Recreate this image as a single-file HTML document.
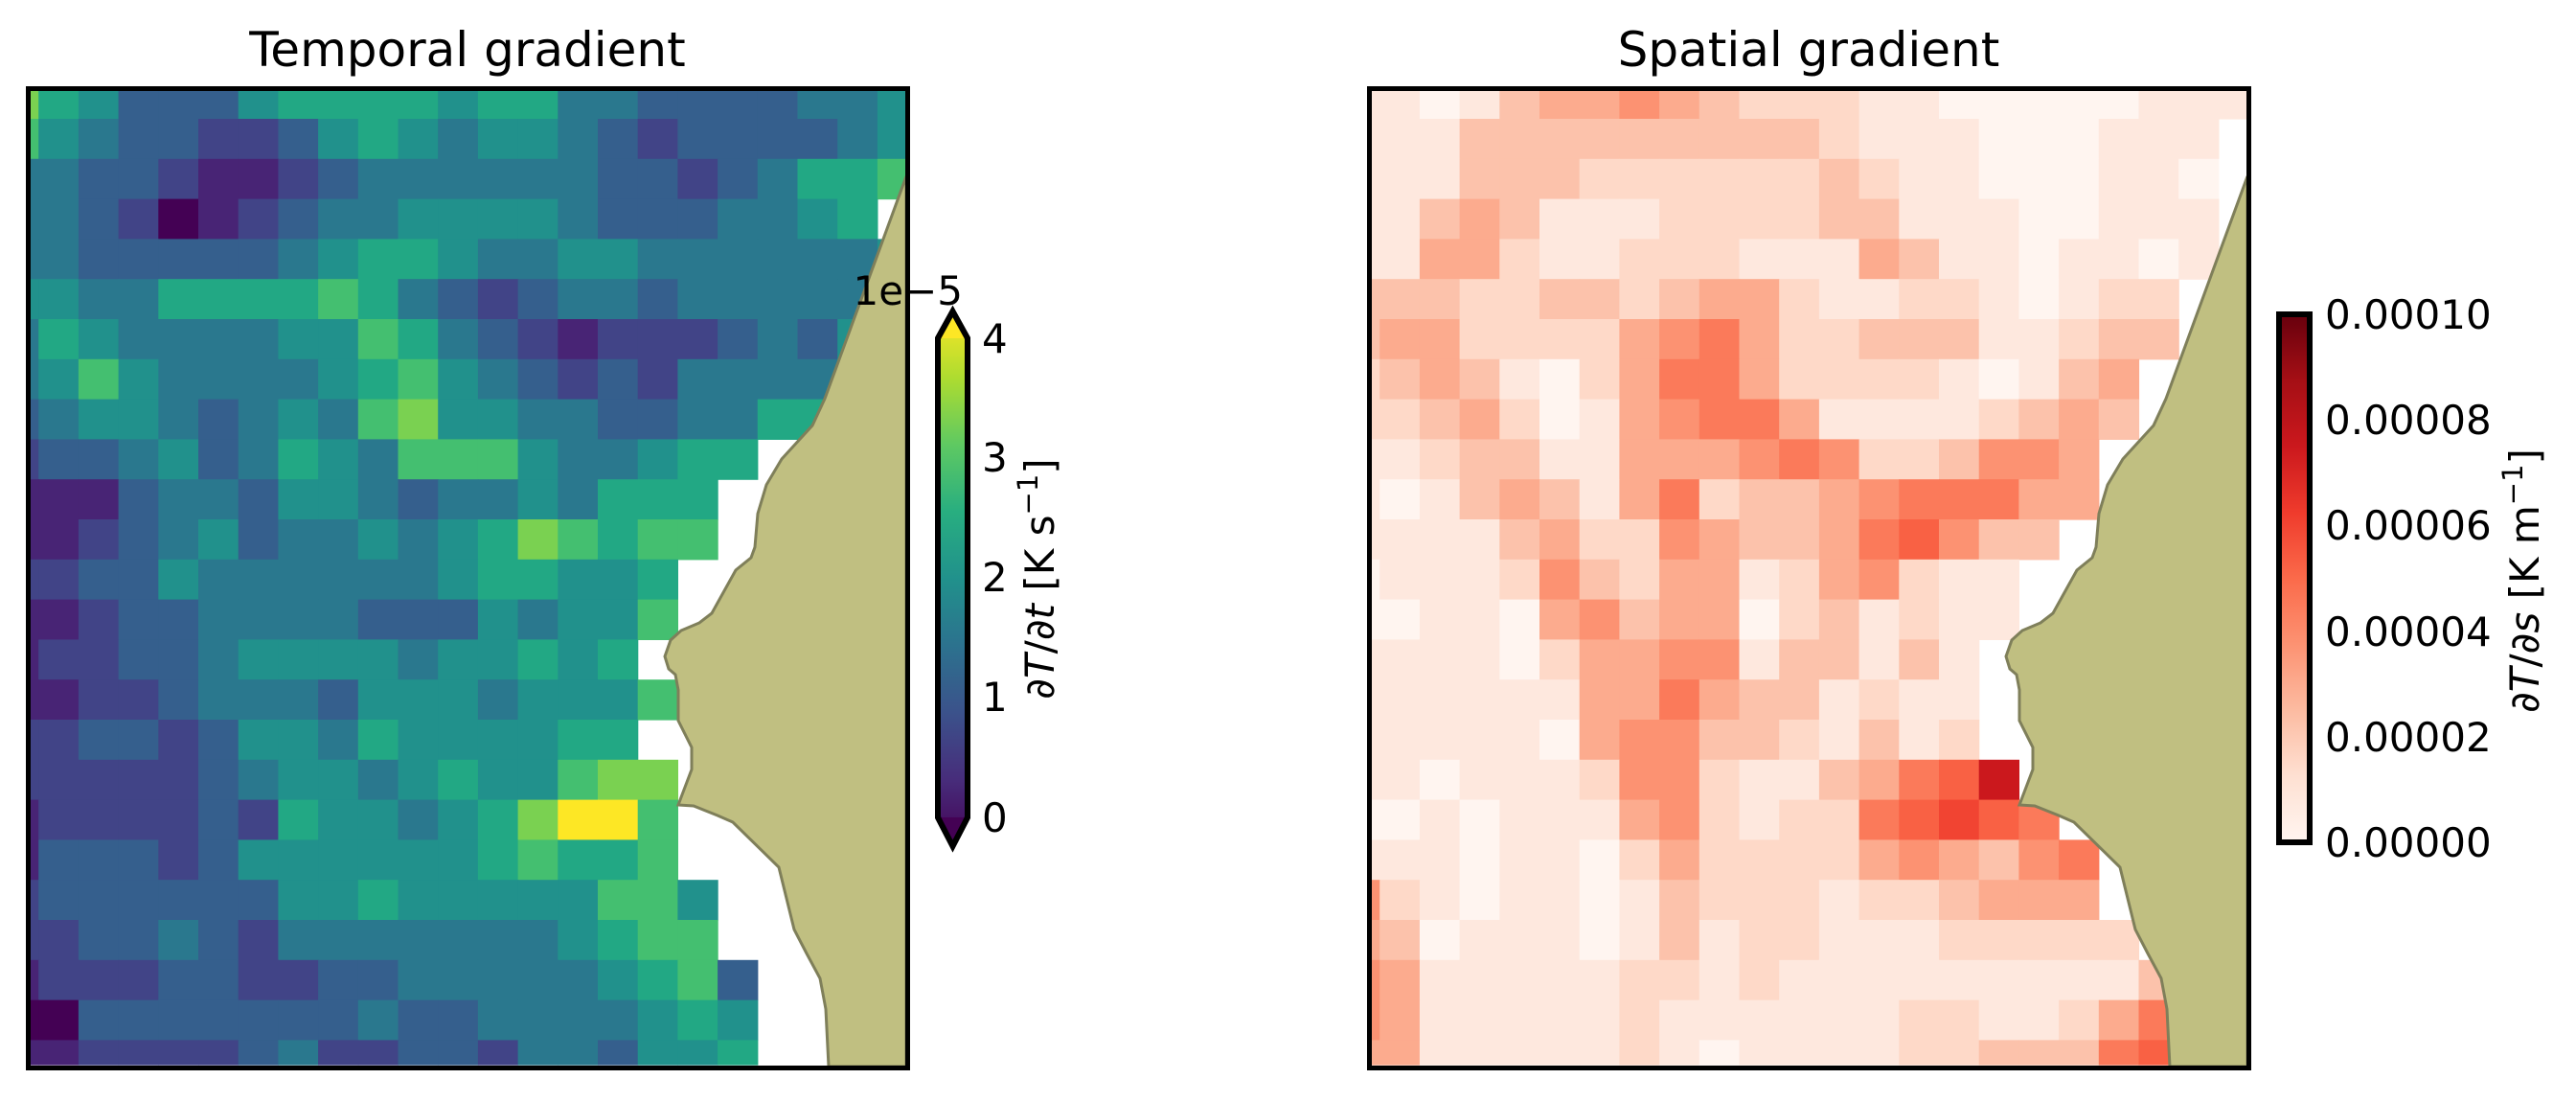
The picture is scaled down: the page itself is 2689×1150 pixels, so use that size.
<!DOCTYPE html>
<html><head><meta charset="utf-8"><style>
html,body{margin:0;padding:0;background:#fff;}
svg text{font-family:"DejaVu Sans","Liberation Sans",sans-serif;fill:#000;}
</style></head><body>
<svg id="s" xmlns="http://www.w3.org/2000/svg" width="2689" height="1145" viewBox="0 0 2689 1145">
<defs>
<linearGradient id="vir" x1="0" y1="1" x2="0" y2="0">
<stop offset="0" stop-color="#440154"/><stop offset="0.125" stop-color="#472d7b"/><stop offset="0.25" stop-color="#3b528b"/><stop offset="0.375" stop-color="#2c728e"/><stop offset="0.5" stop-color="#21918c"/><stop offset="0.625" stop-color="#28ae80"/><stop offset="0.75" stop-color="#5ec962"/><stop offset="0.875" stop-color="#addc30"/><stop offset="1" stop-color="#fde725"/>
</linearGradient>
<linearGradient id="red" x1="0" y1="1" x2="0" y2="0">
<stop offset="0" stop-color="#fff5f0"/><stop offset="0.125" stop-color="#fee0d2"/><stop offset="0.25" stop-color="#fcbba1"/><stop offset="0.375" stop-color="#fc9272"/><stop offset="0.5" stop-color="#fb6a4a"/><stop offset="0.625" stop-color="#ef3b2c"/><stop offset="0.75" stop-color="#cb181d"/><stop offset="0.875" stop-color="#a50f15"/><stop offset="1" stop-color="#67000d"/>
</linearGradient>
</defs>
<g id="cells"></g>
<g id="land"></g>
<rect x="29.5" y="92.5" width="918" height="1022" fill="none" stroke="#000" stroke-width="5"/>
<rect x="1429.5" y="92.5" width="918" height="1022" fill="none" stroke="#000" stroke-width="5"/>
<text x="488" y="69" font-size="50" text-anchor="middle">Temporal gradient</text>
<text x="1888" y="69" font-size="50" text-anchor="middle">Spatial gradient</text>
<!-- colorbar 1 -->
<path d="M979,353 L994.5,325 L1010,353 L1010,853 L994.5,883 L979,853 Z" fill="url(#vir)" stroke="#000" stroke-width="6" stroke-linejoin="miter"/>
<path d="M981,353 L994.5,328 L1008,353 Z" fill="#fde725"/>
<path d="M981,853 L994.5,880 L1008,853 Z" fill="#440154"/>
<path d="M979,353 L994.5,325 L1010,353 L1010,853 L994.5,883 L979,853 Z" fill="none" stroke="#000" stroke-width="6"/>
<g font-size="42">
<text x="1025" y="368">4</text>
<text x="1025" y="492">3</text>
<text x="1025" y="617">2</text>
<text x="1025" y="742">1</text>
<text x="1025" y="868">0</text>
<text x="1005" y="318" text-anchor="end">1e−5</text>
<text transform="translate(1100,604) rotate(-90)" text-anchor="middle"><tspan font-style="italic">∂T</tspan>/<tspan font-style="italic">∂t</tspan> [K s<tspan baseline-shift="super" font-size="29">−1</tspan>]</text>
</g>
<!-- colorbar 2 -->
<rect x="2379" y="328" width="32" height="551" fill="url(#red)" stroke="#000" stroke-width="6"/>
<g font-size="42">
<text x="2427" y="343">0.00010</text>
<text x="2427" y="453">0.00008</text>
<text x="2427" y="563">0.00006</text>
<text x="2427" y="674">0.00004</text>
<text x="2427" y="784">0.00002</text>
<text x="2427" y="894">0.00000</text>
<text transform="translate(2650,606) rotate(-90)" text-anchor="middle"><tspan font-style="italic">∂T</tspan>/<tspan font-style="italic">∂s</tspan> [K m<tspan baseline-shift="super" font-size="29">−1</tspan>]</text>
</g>
</svg>
<script>
var T=[
"86533356666566443333445",
"75433223565455432333345.",
"44332112344444433234667.",
"4432012344555543334456..",
"44333334566544554444445..",
"55446666764323443444444..",
"46544445576432122234354..",
"4575444456754323244446...",
"34554345478554433446 6..".replace(' ',''),
"2334534654777544566.....",
"111344355434454666......",
"112345344545687677......",
"22335444444566556.......",
"11233444433354557.......",
"1223345555455656........",
"11223444355545557.......",
"2233235546555566........",
"22222345545655788.......",
"12222326554568997.......",
"13332355555567667.......",
"233333355655555775......",
"223343244444445677......",
"1222332233444445673.....",
"0033333334334444565.....",
"1122223422332443556....."
];
var R=[
"11013445432221100000111",
"1113333333332111000111.",
"1113332222223211000110.",
"1134311122223311100111.",
"1144211222111431101101.",
"333223323442112210122..",
"344222245642233311233..",
"2343102466422221013 4..".replace(' ',''),
"22342014566411112343...",
"1123311444565223554....",
"1013431462334566644....",
"1111342254334675 33....".replace(' ',''),
"01112532441245211......",
"00110453440231211......",
"1111024455133131.......",
"1111114464331211.......",
"1111104553321312.......",
"1101112552113467X......",
"001011145212267876.....",
"1110110242222454356....",
"5210110132221223444....",
"43011101312211122222...",
"541111122121111111113..",
"541111121111112211246..",
"441111121011112233367.."
];
var vir=[[68,1,84],[72,36,117],[65,68,135],[53,95,141],[42,120,142],[33,145,140],[34,168,132],[68,191,112],[122,209,81],[253,231,37]];
function lerp(a,b,t){return a.map(function(v,i){return Math.round(v+(b[i]-v)*t);});}
var reds=[[255,245,240],[254,224,210],[252,187,161],[252,146,114],[251,106,74],[239,59,44],[203,24,29],[165,15,21],[103,0,13]];
function redc(f){var p=f*8,i=Math.min(7,Math.floor(p));return lerp(reds[i],reds[i+1],p-i);}
function colT(ch){var d=+ch;return vir[d];}
function colR(ch){var f=ch==='X'?0.75:(+ch)*0.075;return redc(f);}
function cx(c){return c==0?32:40.2+41.7*(c-1);}
function cx1(c){return c==22?946:40.2+41.7*c;}
function ry(r){return r==0?95:124+41.8*(r-1);}
function ry1(r){return r==24?1111:124+41.8*r;}
var out='';
function draw(data,fn,off){
 for(var r=0;r<data.length;r++){var row=data[r];
  for(var c=0;c<23&&c<row.length;c++){var ch=row[c];if(ch==='.'||ch===' ')continue;
   var col=fn(ch);var x=cx(c)+off,w=cx1(c)-cx(c),y=ry(r),h=ry1(r)-ry(r);
   out+='<rect x="'+x.toFixed(1)+'" y="'+y.toFixed(1)+'" width="'+(w+0.6).toFixed(1)+'" height="'+(h+0.6).toFixed(1)+'" fill="rgb('+col.join(',')+')"/>';}}
}
draw(T,colT,0);draw(R,colR,1400);
document.getElementById('cells').innerHTML=out;
var P=[[946,184],[861,416],[848,444],[816,479],[800,506],[791,536],[788,571],[784,582],[768,595],[743,640],[730,650],[711,658],[700,668],[694,685],[698,698],[705,704],[708,720],[708,752],[722,780],[722,803],[708,840],[724,841],[749,851],[765,858],[813,905],[829,970],[842,995],[856,1021],[862,1053],[865,1113],[946,1113]];
var L='';
[0,1400].forEach(function(o){L+='<polygon points="'+P.map(function(p){return (p[0]+o)+','+p[1];}).join(' ')+'" fill="#c0bf81" stroke="#7f7f5a" stroke-width="3"/>';});
document.getElementById('land').innerHTML=L;
</script>
</body></html>
